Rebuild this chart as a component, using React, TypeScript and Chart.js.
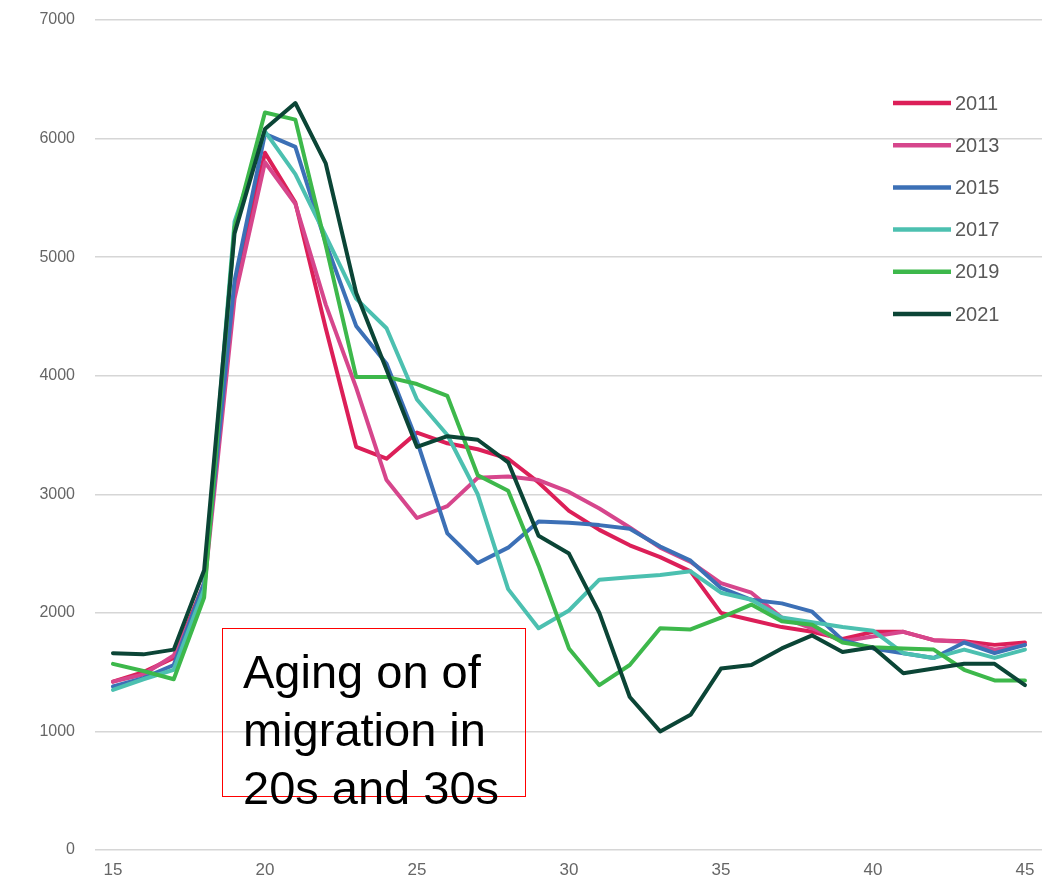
import React, { useEffect, useRef } from 'react';
import { Chart, registerables } from 'chart.js';

Chart.register(...registerables);

const AGES = [15, 16, 17, 18, 19, 20, 21, 22, 23, 24, 25, 26, 27, 28, 29, 30, 31, 32, 33, 34, 35, 36, 37, 38, 39, 40, 41, 42, 43, 44, 45];
const X_TICKS = [15, 20, 25, 30, 35, 40, 45];
const Y_TICKS = [0, 1000, 2000, 3000, 4000, 5000, 6000, 7000];
const YEARS = ['2011', '2013', '2015', '2017', '2019', '2021'];

const S2011 = [1420, 1500, 1620, 2250, 4750, 5880, 5460, 4400, 3400, 3300, 3520, 3430, 3380, 3300, 3100, 2860, 2700, 2570, 2470, 2350, 2000, 1940, 1880, 1840, 1780, 1840, 1840, 1770, 1760, 1730, 1750];
const S2013 = [1420, 1480, 1640, 2200, 4650, 5800, 5450, 4600, 3900, 3120, 2800, 2900, 3140, 3150, 3120, 3020, 2880, 2720, 2550, 2430, 2250, 2170, 1960, 1870, 1760, 1800, 1840, 1770, 1755, 1690, 1730];
const S2015 = [1380, 1450, 1560, 2250, 4800, 6040, 5930, 5120, 4420, 4100, 3450, 2670, 2420, 2550, 2770, 2760, 2740, 2710, 2560, 2440, 2210, 2110, 2080, 2010, 1770, 1700, 1660, 1620, 1750, 1660, 1730];
const S2017 = [1350, 1440, 1520, 2200, 5300, 6060, 5700, 5180, 4650, 4400, 3800, 3500, 3000, 2200, 1870, 2020, 2280, 2300, 2320, 2350, 2170, 2110, 1960, 1920, 1880, 1850, 1660, 1620, 1690, 1620, 1690];
const S2019 = [1570, 1510, 1440, 2130, 5250, 6220, 6160, 5100, 3990, 3990, 3930, 3830, 3160, 3030, 2400, 1700, 1390, 1560, 1870, 1860, 1960, 2070, 1930, 1900, 1750, 1710, 1700, 1690, 1520, 1430, 1430];
const S2021 = [1660, 1650, 1690, 2360, 5200, 6080, 6300, 5790, 4700, 4050, 3400, 3490, 3460, 3270, 2650, 2500, 2000, 1290, 1000, 1140, 1530, 1560, 1700, 1810, 1670, 1710, 1490, 1530, 1570, 1570, 1390];

const SERIES = [S2011, S2013, S2015, S2017, S2019, S2021];
const COLORS = ['#dc1f58', '#d6468c', '#3c70b6', '#4cc0b0', '#3db84b', '#0b4536'];

const FONT = "'Liberation Sans', Arial, sans-serif";

const legendPlugin = {
  id: 'insideLegend',
  afterDraw(chart: any) {
    const ctx = chart.ctx;
    ctx.save();
    chart.data.datasets.forEach((ds: any, i: number) => {
      const y = 103 + i * 42.2;
      ctx.beginPath();
      ctx.strokeStyle = ds.borderColor;
      ctx.lineWidth = 4.5;
      ctx.lineCap = 'butt';
      ctx.moveTo(893, y);
      ctx.lineTo(951, y);
      ctx.stroke();
      ctx.fillStyle = '#595959';
      ctx.font = `20px ${FONT}`;
      ctx.textBaseline = 'middle';
      ctx.textAlign = 'left';
      ctx.fillText(ds.label, 955, y + 1);
    });
    ctx.restore();
  },
};

export default function App() {
  const ref = useRef<HTMLCanvasElement>(null);

  useEffect(() => {
    const chart = new Chart(ref.current as HTMLCanvasElement, {
      type: 'line',
      data: {
        datasets: YEARS.map((label, i) => ({
          label,
          data: AGES.map((a, j) => ({ x: a, y: SERIES[i][j] })),
          borderColor: COLORS[i],
          backgroundColor: COLORS[i],
          borderWidth: 4,
          pointRadius: 0,
          fill: false,
          tension: 0,
          borderJoinStyle: 'round',
          borderCapStyle: 'round',
          order: YEARS.length - i,
        })),
      },
      options: {
        responsive: false,
        animation: false,
        devicePixelRatio: 1,
        layout: { autoPadding: false, padding: { top: 20, right: 11, bottom: 0, left: 0 } },
        plugins: { legend: { display: false }, tooltip: { enabled: false } },
        scales: {
          x: {
            type: 'linear',
            min: 14.41,
            max: 45.56,
            grid: { display: false, drawTicks: false },
            border: { display: false },
            afterBuildTicks: (s: any) => {
              s.ticks = X_TICKS.map((v) => ({ value: v }));
            },
            afterFit: (s: any) => {
              s.height = 39;
              s.paddingLeft = 0;
              s.paddingRight = 0;
            },
            ticks: {
              color: '#666666',
              font: { family: FONT, size: 17 },
              padding: 10,
              autoSkip: false,
              maxRotation: 0,
              callback: (v: any) => String(v),
            },
          },
          y: {
            min: 0,
            max: 7000,
            afterBuildTicks: (s: any) => {
              s.ticks = Y_TICKS.map((v) => ({ value: v }));
            },
            afterFit: (s: any) => {
              s.width = 95;
              s.paddingTop = 0;
              s.paddingBottom = 0;
            },
            grid: { color: '#d6d6d6', lineWidth: 1.5, drawTicks: false },
            border: { display: false },
            ticks: {
              color: '#666666',
              font: { family: FONT, size: 16 },
              padding: 20,
              callback: (v: any) => String(v),
            },
          },
        },
      },
      plugins: [legendPlugin],
    } as any);
    return () => chart.destroy();
  }, []);

  return (
    <div style={{ position: 'absolute', left: 0, top: 0, width: 1053, height: 889, background: '#ffffff' }}>
      <canvas ref={ref} width={1053} height={889} style={{ display: 'block', width: 1053, height: 889 }} />
      <div
        style={{
          position: 'absolute',
          left: 222,
          top: 628,
          width: 304,
          height: 169,
          border: '1px solid #ff0000',
          boxSizing: 'border-box',
          fontFamily: FONT,
          fontSize: 47,
          lineHeight: '58px',
          color: '#000000',
          padding: '14px 0 0 20px',
          background: 'transparent',
          whiteSpace: 'nowrap',
        }}
      >
        <div>Aging on of</div>
        <div>migration in</div>
        <div>20s and 30s</div>
      </div>
    </div>
  );
}
